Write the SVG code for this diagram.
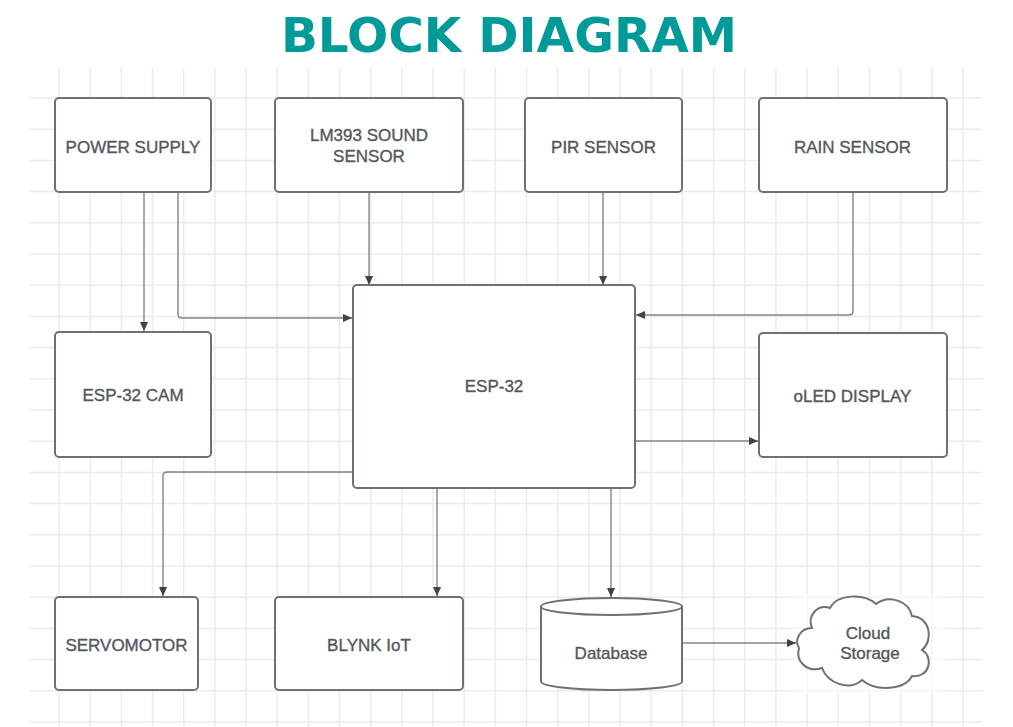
<svg xmlns="http://www.w3.org/2000/svg" width="1013" height="727" viewBox="0 0 1013 727">
<defs>
<style>
.grid line{stroke:#ebebeb;stroke-width:1.5}
.box{fill:#fff;stroke:#6c7078;stroke-width:2}
.lbl{font-family:"Liberation Sans",Arial,sans-serif;font-size:17px;fill:#53575d;stroke:#53575d;stroke-width:0.35;text-anchor:middle}
.conn path{fill:none;stroke:#80848a;stroke-width:1.4;marker-end:url(#arr)}
.title{font-family:"DejaVu Sans",Verdana,sans-serif;font-weight:bold;font-size:48.5px;fill:#009a98;text-anchor:middle}
</style>
<marker id="arr" viewBox="0 0 10 10" refX="10" refY="5" markerWidth="10" markerHeight="9" markerUnits="userSpaceOnUse" orient="auto">
<path d="M0,0.5 L10,5 L0,9.5 Z" fill="#3d434b"/>
</marker>
</defs>
<rect width="1013" height="727" fill="#fff"/>
<text class="title" x="509" y="52">BLOCK DIAGRAM</text>
<g class="grid">
<line x1="29" y1="98" x2="982" y2="98"/><line x1="29" y1="129.2" x2="982" y2="129.2"/><line x1="29" y1="160.4" x2="982" y2="160.4"/><line x1="29" y1="191.6" x2="982" y2="191.6"/><line x1="29" y1="222.8" x2="982" y2="222.8"/><line x1="29" y1="254" x2="982" y2="254"/><line x1="29" y1="285.2" x2="982" y2="285.2"/><line x1="29" y1="316.4" x2="982" y2="316.4"/><line x1="29" y1="347.6" x2="982" y2="347.6"/><line x1="29" y1="378.8" x2="982" y2="378.8"/><line x1="29" y1="410" x2="982" y2="410"/><line x1="29" y1="441.2" x2="982" y2="441.2"/><line x1="29" y1="472.4" x2="982" y2="472.4"/><line x1="29" y1="503.6" x2="982" y2="503.6"/><line x1="29" y1="534.8" x2="982" y2="534.8"/><line x1="29" y1="566" x2="982" y2="566"/><line x1="29" y1="597.2" x2="982" y2="597.2"/><line x1="29" y1="628.4" x2="982" y2="628.4"/><line x1="29" y1="659.6" x2="982" y2="659.6"/><line x1="29" y1="690.8" x2="982" y2="690.8"/><line x1="29" y1="722" x2="982" y2="722"/>
<line x1="59" y1="68" x2="59" y2="727"/><line x1="90.2" y1="68" x2="90.2" y2="727"/><line x1="121.3" y1="68" x2="121.3" y2="727"/><line x1="152.5" y1="68" x2="152.5" y2="727"/><line x1="183.7" y1="68" x2="183.7" y2="727"/><line x1="214.9" y1="68" x2="214.9" y2="727"/><line x1="246" y1="68" x2="246" y2="727"/><line x1="277.2" y1="68" x2="277.2" y2="727"/><line x1="308.4" y1="68" x2="308.4" y2="727"/><line x1="339.5" y1="68" x2="339.5" y2="727"/><line x1="370.7" y1="68" x2="370.7" y2="727"/><line x1="401.9" y1="68" x2="401.9" y2="727"/><line x1="433" y1="68" x2="433" y2="727"/><line x1="464.2" y1="68" x2="464.2" y2="727"/><line x1="495.4" y1="68" x2="495.4" y2="727"/><line x1="526.6" y1="68" x2="526.6" y2="727"/><line x1="557.7" y1="68" x2="557.7" y2="727"/><line x1="588.9" y1="68" x2="588.9" y2="727"/><line x1="620.1" y1="68" x2="620.1" y2="727"/><line x1="651.2" y1="68" x2="651.2" y2="727"/><line x1="682.4" y1="68" x2="682.4" y2="727"/><line x1="713.6" y1="68" x2="713.6" y2="727"/><line x1="744.7" y1="68" x2="744.7" y2="727"/><line x1="775.9" y1="68" x2="775.9" y2="727"/><line x1="807.1" y1="68" x2="807.1" y2="727"/><line x1="838.3" y1="68" x2="838.3" y2="727"/><line x1="869.4" y1="68" x2="869.4" y2="727"/><line x1="900.6" y1="68" x2="900.6" y2="727"/><line x1="931.8" y1="68" x2="931.8" y2="727"/><line x1="962.9" y1="68" x2="962.9" y2="727"/>
</g>
<rect x="793" y="595" width="154" height="98" fill="#fff" opacity="0.5"/>
<g class="conn" id="connectors">
<path d="M144,192 V331"/>
<path d="M178,192 V314 Q178,318 182,318 H352"/>
<path d="M369,192 V285"/>
<path d="M603,192 V285"/>
<path d="M853,192 V311 Q853,315 849,315 H636"/>
<path d="M635,441 H758"/>
<path d="M353,472 H167 Q163,472 163,476 V596"/>
<path d="M437,488 V596"/>
<path d="M611,488 V597"/>
<path d="M682,643 H796"/>
</g>
<g id="power-supply"><rect class="box" x="55" y="98" width="156" height="94" rx="4"/><text class="lbl" x="133" y="153">POWER SUPPLY</text></g>
<g id="lm393"><rect class="box" x="275" y="98" width="188" height="94" rx="4"/><text class="lbl" x="369" y="141">LM393 SOUND</text><text class="lbl" x="369" y="162">SENSOR</text></g>
<g id="pir"><rect class="box" x="525" y="98" width="157" height="94" rx="4"/><text class="lbl" x="603.5" y="153">PIR SENSOR</text></g>
<g id="rain"><rect class="box" x="759" y="98" width="188" height="94" rx="4"/><text class="lbl" x="852.5" y="153">RAIN SENSOR</text></g>
<g id="esp32cam"><rect class="box" x="55" y="332" width="156" height="125" rx="4"/><text class="lbl" x="133" y="401">ESP-32 CAM</text></g>
<g id="esp32"><rect class="box" x="353" y="285" width="282" height="203" rx="4"/><text class="lbl" x="494" y="392">ESP-32</text></g>
<g id="oled"><rect class="box" x="759" y="333" width="188" height="124" rx="4"/><text class="lbl" x="852.5" y="402">oLED DISPLAY</text></g>
<g id="servo"><rect class="box" x="55" y="597" width="143" height="93" rx="4"/><text class="lbl" x="126.5" y="651">SERVOMOTOR</text></g>
<g id="blynk"><rect class="box" x="275" y="597" width="188" height="93" rx="4"/><text class="lbl" x="369" y="651">BLYNK IoT</text></g>
<g id="database"><path class="box" d="M541,606.5 V681.5 A70.5,8.5 0 0 0 682,681.5 V606.5 A70.5,8.5 0 0 0 541,606.5 A70.5,8.5 0 0 0 682,606.5"/><text class="lbl" x="611" y="659">Database</text></g>
<g id="cloud"><path class="box" d="M812,628 C800,628 794,640 799,648 C795,662 808,673 822,668 C828,684 850,691 862,680 C876,692 905,690 912,676 C930,678 934,657 922,650 C934,640 930,617 912,616 C909,601 889,594 876,604 C864,593 837,594 830,608 C817,604 807,616 812,628 Z"/><text class="lbl" x="868" y="639">Cloud</text><text class="lbl" x="870" y="659">Storage</text></g>
</svg>
